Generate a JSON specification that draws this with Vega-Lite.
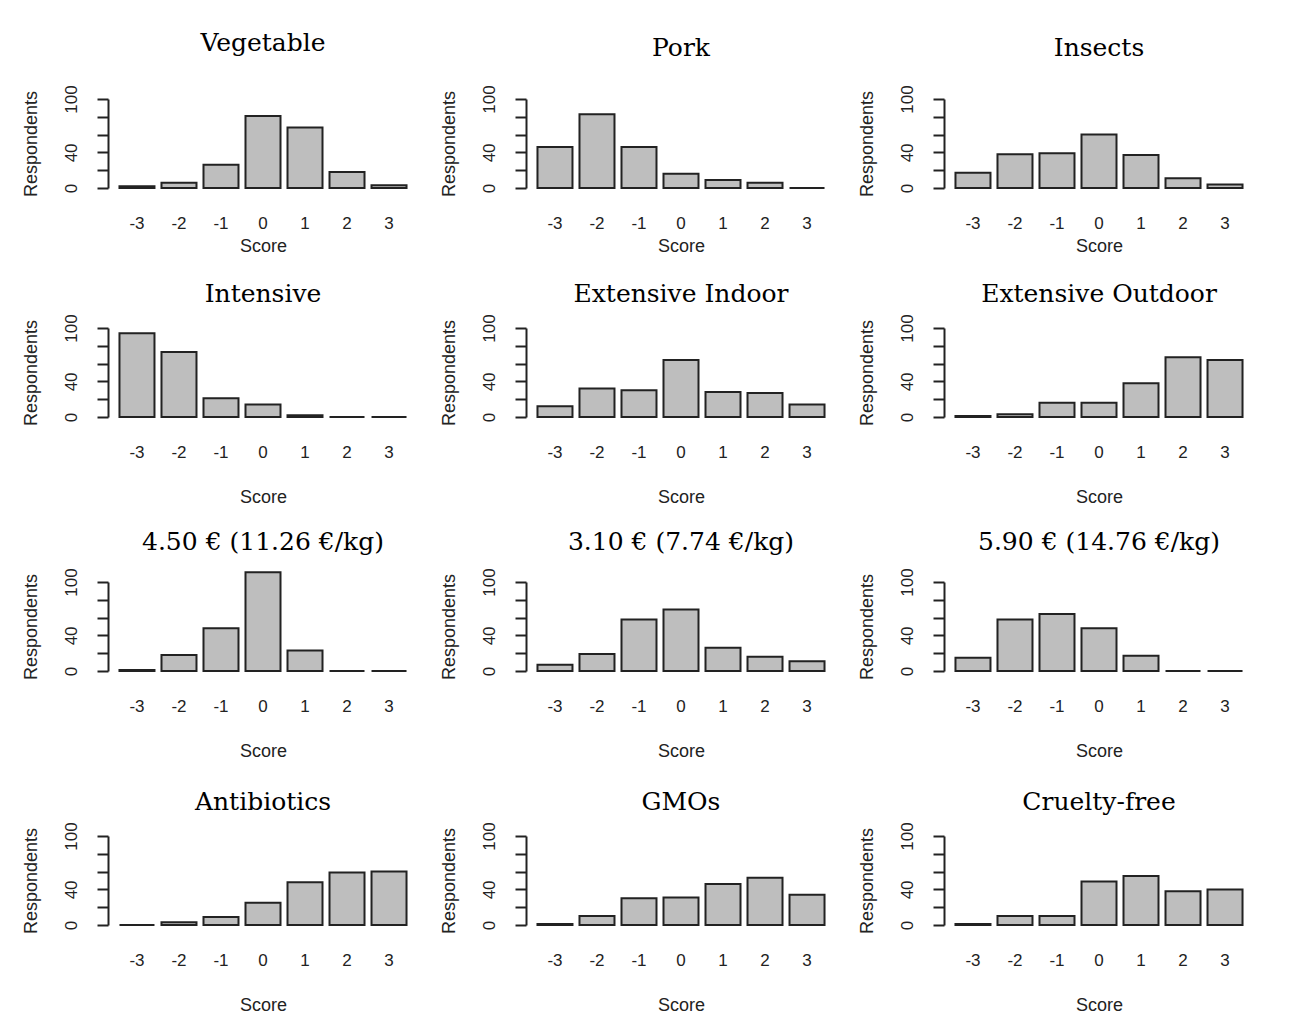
{
  "$schema": "https://vega.github.io/schema/vega-lite/v6.json",
  "padding": {"left": 22, "top": 30, "right": 10, "bottom": 5},
  "background": "white",
  "data": {"values": [
    {"panel": "Vegetable", "score": -3, "count": 2}, {"panel": "Vegetable", "score": -2, "count": 6}, {"panel": "Vegetable", "score": -1, "count": 26}, {"panel": "Vegetable", "score": 0, "count": 81}, {"panel": "Vegetable", "score": 1, "count": 68}, {"panel": "Vegetable", "score": 2, "count": 18}, {"panel": "Vegetable", "score": 3, "count": 3},
    {"panel": "Pork", "score": -3, "count": 46}, {"panel": "Pork", "score": -2, "count": 83}, {"panel": "Pork", "score": -1, "count": 46}, {"panel": "Pork", "score": 0, "count": 16}, {"panel": "Pork", "score": 1, "count": 9}, {"panel": "Pork", "score": 2, "count": 6}, {"panel": "Pork", "score": 3, "count": 0},
    {"panel": "Insects", "score": -3, "count": 17}, {"panel": "Insects", "score": -2, "count": 38}, {"panel": "Insects", "score": -1, "count": 39}, {"panel": "Insects", "score": 0, "count": 60}, {"panel": "Insects", "score": 1, "count": 37}, {"panel": "Insects", "score": 2, "count": 11}, {"panel": "Insects", "score": 3, "count": 4},
    {"panel": "Intensive", "score": -3, "count": 94}, {"panel": "Intensive", "score": -2, "count": 73}, {"panel": "Intensive", "score": -1, "count": 21}, {"panel": "Intensive", "score": 0, "count": 14}, {"panel": "Intensive", "score": 1, "count": 2}, {"panel": "Intensive", "score": 2, "count": 0}, {"panel": "Intensive", "score": 3, "count": 0},
    {"panel": "Extensive Indoor", "score": -3, "count": 12}, {"panel": "Extensive Indoor", "score": -2, "count": 32}, {"panel": "Extensive Indoor", "score": -1, "count": 30}, {"panel": "Extensive Indoor", "score": 0, "count": 64}, {"panel": "Extensive Indoor", "score": 1, "count": 28}, {"panel": "Extensive Indoor", "score": 2, "count": 27}, {"panel": "Extensive Indoor", "score": 3, "count": 14},
    {"panel": "Extensive Outdoor", "score": -3, "count": 1}, {"panel": "Extensive Outdoor", "score": -2, "count": 3}, {"panel": "Extensive Outdoor", "score": -1, "count": 16}, {"panel": "Extensive Outdoor", "score": 0, "count": 16}, {"panel": "Extensive Outdoor", "score": 1, "count": 38}, {"panel": "Extensive Outdoor", "score": 2, "count": 67}, {"panel": "Extensive Outdoor", "score": 3, "count": 64},
    {"panel": "4.50 € (11.26 €/kg)", "score": -3, "count": 1}, {"panel": "4.50 € (11.26 €/kg)", "score": -2, "count": 18}, {"panel": "4.50 € (11.26 €/kg)", "score": -1, "count": 48}, {"panel": "4.50 € (11.26 €/kg)", "score": 0, "count": 111}, {"panel": "4.50 € (11.26 €/kg)", "score": 1, "count": 23}, {"panel": "4.50 € (11.26 €/kg)", "score": 2, "count": 0}, {"panel": "4.50 € (11.26 €/kg)", "score": 3, "count": 0},
    {"panel": "3.10 € (7.74 €/kg)", "score": -3, "count": 7}, {"panel": "3.10 € (7.74 €/kg)", "score": -2, "count": 19}, {"panel": "3.10 € (7.74 €/kg)", "score": -1, "count": 58}, {"panel": "3.10 € (7.74 €/kg)", "score": 0, "count": 69}, {"panel": "3.10 € (7.74 €/kg)", "score": 1, "count": 26}, {"panel": "3.10 € (7.74 €/kg)", "score": 2, "count": 16}, {"panel": "3.10 € (7.74 €/kg)", "score": 3, "count": 11},
    {"panel": "5.90 € (14.76 €/kg)", "score": -3, "count": 15}, {"panel": "5.90 € (14.76 €/kg)", "score": -2, "count": 58}, {"panel": "5.90 € (14.76 €/kg)", "score": -1, "count": 64}, {"panel": "5.90 € (14.76 €/kg)", "score": 0, "count": 48}, {"panel": "5.90 € (14.76 €/kg)", "score": 1, "count": 17}, {"panel": "5.90 € (14.76 €/kg)", "score": 2, "count": 0}, {"panel": "5.90 € (14.76 €/kg)", "score": 3, "count": 0},
    {"panel": "Antibiotics", "score": -3, "count": 0}, {"panel": "Antibiotics", "score": -2, "count": 3}, {"panel": "Antibiotics", "score": -1, "count": 9}, {"panel": "Antibiotics", "score": 0, "count": 25}, {"panel": "Antibiotics", "score": 1, "count": 48}, {"panel": "Antibiotics", "score": 2, "count": 59}, {"panel": "Antibiotics", "score": 3, "count": 60},
    {"panel": "GMOs", "score": -3, "count": 1}, {"panel": "GMOs", "score": -2, "count": 10}, {"panel": "GMOs", "score": -1, "count": 30}, {"panel": "GMOs", "score": 0, "count": 31}, {"panel": "GMOs", "score": 1, "count": 46}, {"panel": "GMOs", "score": 2, "count": 53}, {"panel": "GMOs", "score": 3, "count": 34},
    {"panel": "Cruelty-free", "score": -3, "count": 1}, {"panel": "Cruelty-free", "score": -2, "count": 10}, {"panel": "Cruelty-free", "score": -1, "count": 10}, {"panel": "Cruelty-free", "score": 0, "count": 49}, {"panel": "Cruelty-free", "score": 1, "count": 55}, {"panel": "Cruelty-free", "score": 2, "count": 38}, {"panel": "Cruelty-free", "score": 3, "count": 40}
  ]},
  "spacing": 26,
  "vconcat": [
    {"spacing": 22, "hconcat": [
      {"title": {"text": "Vegetable", "offset": 29}, "width": 310, "height": 89, "transform": [{"filter": {"field": "panel", "equal": "Vegetable"}}], "mark": {"type": "bar", "fill": "#bebebe", "stroke": "#222222", "strokeWidth": 2}, "encoding": {"x": {"field": "score", "type": "ordinal", "scale": {"paddingInner": 0.1667, "paddingOuter": 0.2733}, "axis": {"title": "Score", "titlePadding": 6}}, "y": {"field": "count", "type": "quantitative", "scale": {"domain": [0, 100]}, "axis": {"title": "Respondents", "values": [0, 20, 40, 60, 80, 100]}}}},
      {"title": {"text": "Pork", "offset": 24}, "width": 310, "height": 89, "transform": [{"filter": {"field": "panel", "equal": "Pork"}}], "mark": {"type": "bar", "fill": "#bebebe", "stroke": "#222222", "strokeWidth": 2}, "encoding": {"x": {"field": "score", "type": "ordinal", "scale": {"paddingInner": 0.1667, "paddingOuter": 0.2733}, "axis": {"title": "Score", "titlePadding": 6}}, "y": {"field": "count", "type": "quantitative", "scale": {"domain": [0, 100]}, "axis": {"title": "Respondents", "values": [0, 20, 40, 60, 80, 100]}}}},
      {"title": {"text": "Insects", "offset": 24}, "width": 310, "height": 89, "transform": [{"filter": {"field": "panel", "equal": "Insects"}}], "mark": {"type": "bar", "fill": "#bebebe", "stroke": "#222222", "strokeWidth": 2}, "encoding": {"x": {"field": "score", "type": "ordinal", "scale": {"paddingInner": 0.1667, "paddingOuter": 0.2733}, "axis": {"title": "Score", "titlePadding": 6}}, "y": {"field": "count", "type": "quantitative", "scale": {"domain": [0, 100]}, "axis": {"title": "Respondents", "values": [0, 20, 40, 60, 80, 100]}}}}
    ]},
    {"spacing": 23, "vconcat": [
      {"spacing": 22, "hconcat": [
        {"title": {"text": "Intensive", "offset": 7}, "width": 310, "height": 89, "transform": [{"filter": {"field": "panel", "equal": "Intensive"}}], "mark": {"type": "bar", "fill": "#bebebe", "stroke": "#222222", "strokeWidth": 2}, "encoding": {"x": {"field": "score", "type": "ordinal", "scale": {"paddingInner": 0.1667, "paddingOuter": 0.2733}, "axis": {"title": "Score", "titlePadding": 28}}, "y": {"field": "count", "type": "quantitative", "scale": {"domain": [0, 100]}, "axis": {"title": "Respondents", "values": [0, 20, 40, 60, 80, 100]}}}},
        {"title": {"text": "Extensive Indoor", "offset": 7}, "width": 310, "height": 89, "transform": [{"filter": {"field": "panel", "equal": "Extensive Indoor"}}], "mark": {"type": "bar", "fill": "#bebebe", "stroke": "#222222", "strokeWidth": 2}, "encoding": {"x": {"field": "score", "type": "ordinal", "scale": {"paddingInner": 0.1667, "paddingOuter": 0.2733}, "axis": {"title": "Score", "titlePadding": 28}}, "y": {"field": "count", "type": "quantitative", "scale": {"domain": [0, 100]}, "axis": {"title": "Respondents", "values": [0, 20, 40, 60, 80, 100]}}}},
        {"title": {"text": "Extensive Outdoor", "offset": 7}, "width": 310, "height": 89, "transform": [{"filter": {"field": "panel", "equal": "Extensive Outdoor"}}], "mark": {"type": "bar", "fill": "#bebebe", "stroke": "#222222", "strokeWidth": 2}, "encoding": {"x": {"field": "score", "type": "ordinal", "scale": {"paddingInner": 0.1667, "paddingOuter": 0.2733}, "axis": {"title": "Score", "titlePadding": 28}}, "y": {"field": "count", "type": "quantitative", "scale": {"domain": [0, 100]}, "axis": {"title": "Respondents", "values": [0, 20, 40, 60, 80, 100]}}}}
      ]},
      {"spacing": 29, "vconcat": [
        {"spacing": 22, "hconcat": [
          {"title": {"text": "4.50 € (11.26 €/kg)", "offset": 13}, "width": 310, "height": 89, "transform": [{"filter": {"field": "panel", "equal": "4.50 € (11.26 €/kg)"}}], "mark": {"type": "bar", "fill": "#bebebe", "stroke": "#222222", "strokeWidth": 2}, "encoding": {"x": {"field": "score", "type": "ordinal", "scale": {"paddingInner": 0.1667, "paddingOuter": 0.2733}, "axis": {"title": "Score", "titlePadding": 28}}, "y": {"field": "count", "type": "quantitative", "scale": {"domain": [0, 100]}, "axis": {"title": "Respondents", "values": [0, 20, 40, 60, 80, 100]}}}},
          {"title": {"text": "3.10 € (7.74 €/kg)", "offset": 13}, "width": 310, "height": 89, "transform": [{"filter": {"field": "panel", "equal": "3.10 € (7.74 €/kg)"}}], "mark": {"type": "bar", "fill": "#bebebe", "stroke": "#222222", "strokeWidth": 2}, "encoding": {"x": {"field": "score", "type": "ordinal", "scale": {"paddingInner": 0.1667, "paddingOuter": 0.2733}, "axis": {"title": "Score", "titlePadding": 28}}, "y": {"field": "count", "type": "quantitative", "scale": {"domain": [0, 100]}, "axis": {"title": "Respondents", "values": [0, 20, 40, 60, 80, 100]}}}},
          {"title": {"text": "5.90 € (14.76 €/kg)", "offset": 13}, "width": 310, "height": 89, "transform": [{"filter": {"field": "panel", "equal": "5.90 € (14.76 €/kg)"}}], "mark": {"type": "bar", "fill": "#bebebe", "stroke": "#222222", "strokeWidth": 2}, "encoding": {"x": {"field": "score", "type": "ordinal", "scale": {"paddingInner": 0.1667, "paddingOuter": 0.2733}, "axis": {"title": "Score", "titlePadding": 28}}, "y": {"field": "count", "type": "quantitative", "scale": {"domain": [0, 100]}, "axis": {"title": "Respondents", "values": [0, 20, 40, 60, 80, 100]}}}}
        ]},
        {"spacing": 22, "hconcat": [
          {"title": {"text": "Antibiotics", "offset": 7}, "width": 310, "height": 89, "transform": [{"filter": {"field": "panel", "equal": "Antibiotics"}}], "mark": {"type": "bar", "fill": "#bebebe", "stroke": "#222222", "strokeWidth": 2}, "encoding": {"x": {"field": "score", "type": "ordinal", "scale": {"paddingInner": 0.1667, "paddingOuter": 0.2733}, "axis": {"title": "Score", "titlePadding": 28}}, "y": {"field": "count", "type": "quantitative", "scale": {"domain": [0, 100]}, "axis": {"title": "Respondents", "values": [0, 20, 40, 60, 80, 100]}}}},
          {"title": {"text": "GMOs", "offset": 7}, "width": 310, "height": 89, "transform": [{"filter": {"field": "panel", "equal": "GMOs"}}], "mark": {"type": "bar", "fill": "#bebebe", "stroke": "#222222", "strokeWidth": 2}, "encoding": {"x": {"field": "score", "type": "ordinal", "scale": {"paddingInner": 0.1667, "paddingOuter": 0.2733}, "axis": {"title": "Score", "titlePadding": 28}}, "y": {"field": "count", "type": "quantitative", "scale": {"domain": [0, 100]}, "axis": {"title": "Respondents", "values": [0, 20, 40, 60, 80, 100]}}}},
          {"title": {"text": "Cruelty-free", "offset": 7}, "width": 310, "height": 89, "transform": [{"filter": {"field": "panel", "equal": "Cruelty-free"}}], "mark": {"type": "bar", "fill": "#bebebe", "stroke": "#222222", "strokeWidth": 2}, "encoding": {"x": {"field": "score", "type": "ordinal", "scale": {"paddingInner": 0.1667, "paddingOuter": 0.2733}, "axis": {"title": "Score", "titlePadding": 28}}, "y": {"field": "count", "type": "quantitative", "scale": {"domain": [0, 100]}, "axis": {"title": "Respondents", "values": [0, 20, 40, 60, 80, 100]}}}}
        ]}
      ]}
    ]}
  ],
  "config": {
    "view": {"stroke": null},
    "font": "Liberation Sans",
    "title": {"font": "DejaVu Serif", "fontSize": 25, "fontWeight": "normal", "color": "#000000", "anchor": "middle"},
    "axis": {"labelFont": "Liberation Sans", "labelFontSize": 17, "titleFont": "Liberation Sans", "titleFontSize": 18, "titleFontWeight": "normal", "labelColor": "#222222", "titleColor": "#222222", "grid": false, "domainColor": "#222222", "tickColor": "#222222", "domainWidth": 2, "tickWidth": 2},
    "axisX": {"domain": false, "ticks": false, "tickSize": 0, "labelPadding": 27, "labelAngle": 0},
    "axisY": {"labelExpr": "datum.value == 0 || datum.value == 40 || datum.value == 100 ? datum.label : ''", "labelOverlap": false, "labelAngle": -90, "tickSize": 11, "labelPadding": 17, "titlePadding": 22}
  }
}
